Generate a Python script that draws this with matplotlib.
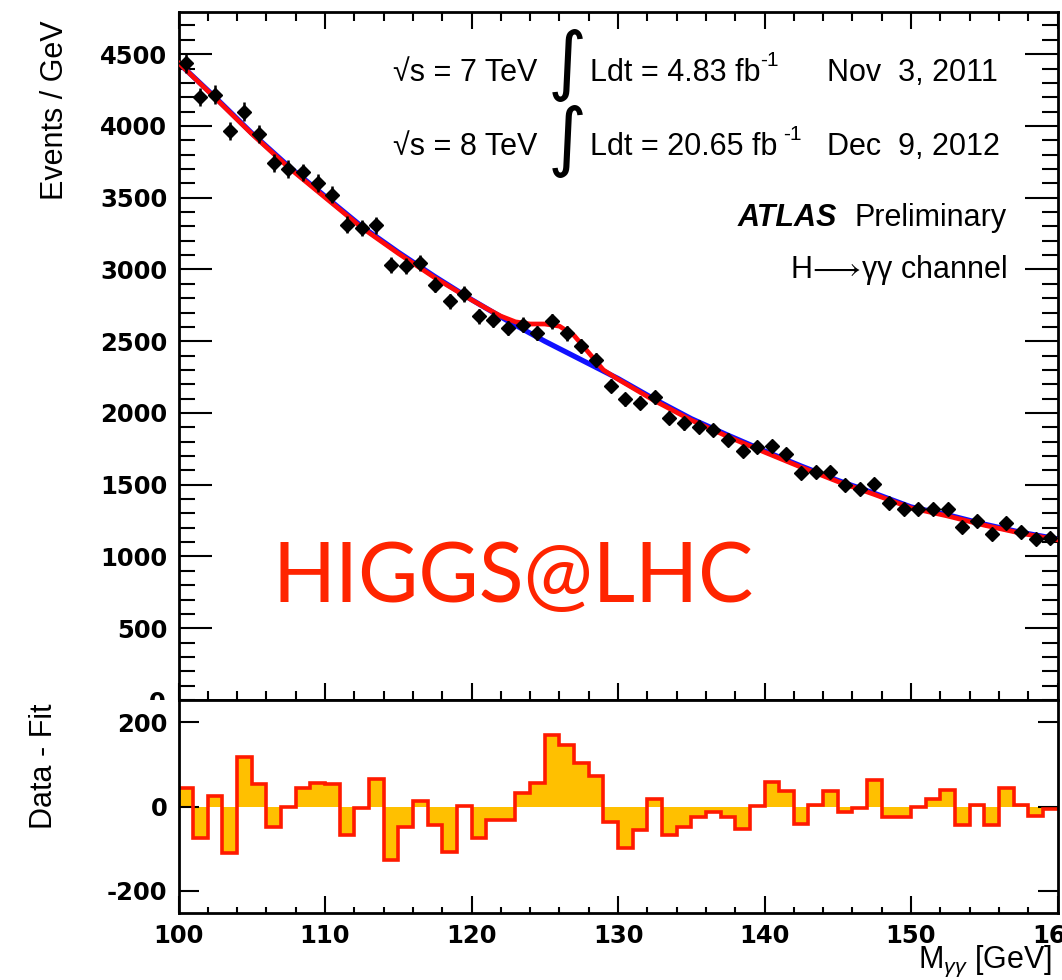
import numpy as np
import matplotlib
matplotlib.use('Agg')
import matplotlib.pyplot as plt
from matplotlib.ticker import MultipleLocator
from matplotlib.font_manager import FontProperties
from matplotlib.transforms import Bbox, TransformedBbox

# diphoton mass spectrum, 1 GeV bins from 100 to 160
bin_edges = np.arange(100, 161, 1)
bin_centers = bin_edges[:-1] + 0.5

events = [4436, 4201, 4217, 3968, 4100, 3943, 3741, 3699, 3676, 3602,
          3521, 3312, 3289, 3307, 3033, 3022, 3045, 2894, 2778, 2829,
          2674, 2651, 2593, 2616, 2558, 2639, 2555, 2465, 2369, 2191,
          2094, 2071, 2110, 1966, 1927, 1904, 1880, 1815, 1734, 1762,
          1769, 1711, 1584, 1588, 1590, 1497, 1467, 1507, 1370, 1333,
          1328, 1328, 1333, 1205, 1247, 1159, 1235, 1170, 1124, 1126]

# data minus background fit
residuals = [45, -75, 25, -111, 118, 53, -49, -2, 45, 56,
             53, -67, -4, 65, -127, -49, 14, -45, -107, 2,
             -75, -31, -31, 31, 57, 171, 145, 104, 72, -37,
             -98, -55, 18, -67, -49, -26, -12, -26, -53, 1,
             59, 38, -42, 4, 38, -13, -4, 63, -26, -24,
             0, 17, 39, -45, 4, -45, 45, 4, -22, -5]

# background only fit (blue)
bkg_mass = [100, 102.5, 105, 107.5, 110, 112.5, 115, 117.5, 120, 122.5, 125, 127.5,
            130, 132.5, 135, 137.5, 140, 142.5, 145, 147.5, 150, 152.5, 155, 157.5, 160]
bkg_fit = [4440, 4200, 3950, 3720, 3510, 3300, 3120, 2950, 2790, 2640, 2500, 2370,
           2240, 2095, 1960, 1845, 1735, 1630, 1530, 1440, 1345, 1290, 1225, 1168, 1122]

# signal + background fit (red)
sb_mass = [100, 102.5, 105, 107.5, 110, 112.5, 115, 117.5, 120, 121, 122, 123, 124,
           125, 126, 127, 128, 129, 130, 131, 132.5, 135, 137.5, 140, 142.5, 145,
           147.5, 150, 152.5, 155, 157.5, 160]
sb_fit = [4440, 4195, 3945, 3712, 3502, 3292, 3112, 2942, 2788, 2730, 2675, 2635, 2620,
          2620, 2605, 2540, 2420, 2300, 2235, 2175, 2085, 1950, 1835, 1727, 1622, 1522,
          1432, 1338, 1282, 1218, 1162, 1116]

W, H = 1062, 980
plt.rcParams['font.family'] = ['Liberation Sans', 'DejaVu Sans']
plt.rcParams['mathtext.fontset'] = 'custom'
plt.rcParams['mathtext.rm'] = 'Liberation Sans'
plt.rcParams['mathtext.it'] = 'Liberation Sans:italic'
plt.rcParams['axes.unicode_minus'] = False

fig = plt.figure(figsize=(W / 100, H / 100), dpi=100)

def fx(px):
  return px / W

def fy(py):
  return 1 - py / H

left, right = 178.5, 1057.5
ax1 = fig.add_axes([fx(left), fy(700), fx(right) - fx(left), fy(12) - fy(700)])
ax2 = fig.add_axes([fx(left), fy(913), fx(right) - fx(left), fy(700) - fy(913)])

tickfont = FontProperties(family='DejaVu Sans', weight='bold', size=17.5)

# main panel
ax1.plot(bkg_mass, bkg_fit, color='#1010ff', lw=3.8, zorder=2)
ax1.plot(sb_mass, sb_fit, color='#ff0a0a', lw=3.4, zorder=3)
ax1.errorbar(bin_centers, events, yerr=np.sqrt(events), fmt='D', color='black',
             ms=6.8, elinewidth=1.8, capsize=0, zorder=4)
ax1.set_xlim(100, 160)
ax1.set_ylim(0, 4794)
ax1.yaxis.set_major_locator(MultipleLocator(500))
ax1.yaxis.set_minor_locator(MultipleLocator(100))
ax1.xaxis.set_major_locator(MultipleLocator(10))
ax1.xaxis.set_minor_locator(MultipleLocator(2))
ax1.tick_params(which='both', direction='in', top=True, right=True, width=1.5)
ax1.tick_params(axis='y', which='major', length=24, pad=8)
ax1.tick_params(axis='y', which='minor', length=11.5)
ax1.tick_params(axis='x', which='major', length=12.5)
ax1.tick_params(axis='x', which='minor', length=6.5)
ax1.set_xticklabels([])
ax1.set_yticks([500, 1000, 1500, 2000, 2500, 3000, 3500, 4000, 4500])
for lab in ax1.get_yticklabels():
  lab.set_fontproperties(tickfont)

# the "0" of the main panel, half hidden behind the lower pad
zero = fig.text(fx(166), fy(703), '0', ha='right', va='center', fontproperties=tickfont)
zero.set_clip_box(TransformedBbox(Bbox([[0, fy(700)], [fx(178), 1]]), fig.transFigure))
zero.set_clip_on(True)

# residual panel
ax2.stairs(residuals, bin_edges, baseline=0, fill=True, color='#ffc000', zorder=1)
ax2.stairs(residuals, bin_edges, baseline=None, color='#ff1a00', lw=2.6, zorder=2)
ax2.set_xlim(100, 160)
ax2.set_ylim(-253, 253)
ax2.yaxis.set_major_locator(MultipleLocator(200))
ax2.xaxis.set_major_locator(MultipleLocator(10))
ax2.xaxis.set_minor_locator(MultipleLocator(2))
ax2.tick_params(which='both', direction='in', top=False, right=True, width=1.5)
ax2.tick_params(axis='y', which='major', length=14.5, pad=8)
ax2.tick_params(axis='x', which='major', length=12.5, pad=8)
ax2.tick_params(axis='x', which='minor', length=4)
for lab in ax2.get_yticklabels() + ax2.get_xticklabels():
  lab.set_fontproperties(tickfont)

for ax in (ax1, ax2):
  for sp in ax.spines.values():
    sp.set_linewidth(2.0)

# axis titles
fig.text(fx(55), fy(20), 'Events / GeV', rotation=90, ha='center', va='top', fontsize=22)
fig.text(fx(44), fy(703), 'Data - Fit', rotation=90, ha='center', va='top', fontsize=22)
fig.text(fx(1052), fy(961), r'M$_{\gamma\gamma}$ [GeV]', ha='right', va='center', fontsize=22)

# luminosity block
fs = 22
fig.text(fx(393), fy(73), '√s = 7 TeV', ha='left', va='center', fontsize=fs)
fig.text(fx(393), fy(147), '√s = 8 TeV', ha='left', va='center', fontsize=fs)
fig.text(fx(567), fy(66), '∫', ha='center', va='center', fontsize=54, family='DejaVu Sans')
fig.text(fx(567), fy(141), '∫', ha='center', va='center', fontsize=54, family='DejaVu Sans')
fig.text(fx(590), fy(73), 'Ldt = 4.83 fb', ha='left', va='center', fontsize=fs)
fig.text(fx(760), fy(60), '-1', ha='left', va='center', fontsize=15)
fig.text(fx(590), fy(147), 'Ldt = 20.65 fb', ha='left', va='center', fontsize=fs)
fig.text(fx(783), fy(134), '-1', ha='left', va='center', fontsize=15)
fig.text(fx(998), fy(73), 'Nov  3, 2011', ha='right', va='center', fontsize=fs)
fig.text(fx(1000), fy(147), 'Dec  9, 2012', ha='right', va='center', fontsize=fs)
fig.text(fx(837), fy(218), 'ATLAS', ha='right', va='center', fontsize=fs,
         weight='bold', style='italic')
fig.text(fx(1007), fy(218), 'Preliminary', ha='right', va='center', fontsize=fs)
fig.text(fx(1007), fy(270), r'H$\!\longrightarrow\!$γγ channel', ha='right', va='center',
         fontsize=fs)

fig.text(fx(273), fy(579), 'HIGGS@LHC', ha='left', va='center', fontsize=59.5,
         family='Lato', color='#ff2400')

fig.savefig('out.png', dpi=100)
